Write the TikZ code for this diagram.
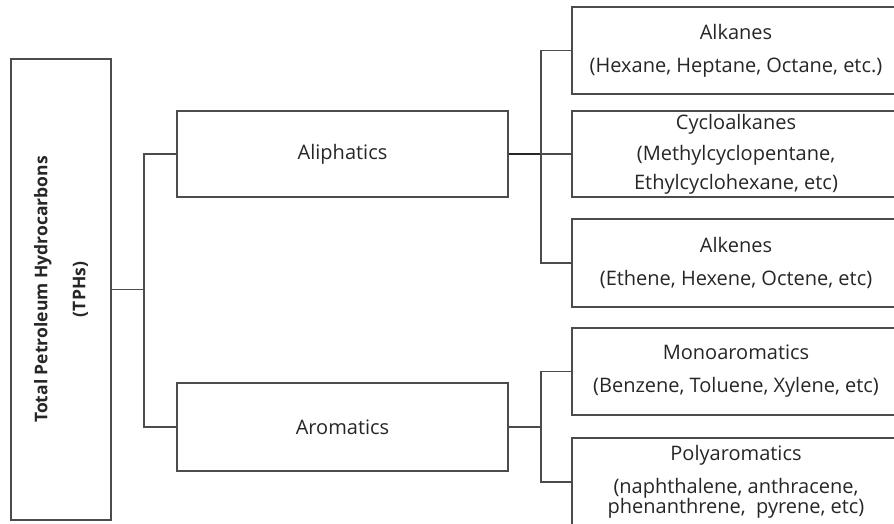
\documentclass[tikz,border=0pt]{standalone}
\usepackage{fontspec}
\setmainfont{Open Sans}
\usepackage{tikz}

\tikzset{
  box/.style={draw=black!70, line width=1.3pt, text=black!85, align=center, inner sep=0pt,
    font=\fontsize{20}{33}\selectfont},
  tphbox/.style={box, font=\bfseries\fontsize{17.5}{38}\selectfont},
  link/.style={draw=black!70, line width=1.3pt},
  elbow/.style={to path={|- (\tikztotarget)}}
}

\begin{document}
\begin{tikzpicture}[x=1pt, y=-1pt]
  \useasboundingbox (0,0) rectangle (894,523);
  \clip (0,0) rectangle (894,523);
  \node[tphbox, rotate=90, minimum width=461, minimum height=100] (tph) at (61,289.5)
    {Total Petroleum Hydrocarbons\\(TPHs)};
  \node[box, minimum width=331, minimum height=86] (ali) at (342.5,154) {Aliphatics};
  \node[box, minimum width=331, minimum height=88] (aro) at (342.5,427) {Aromatics};
  \node[box, minimum width=328, minimum height=87] (alk) at (736,50.5)
    {Alkanes\\(Hexane, Heptane, Octane, etc.)};
  \node[box, minimum width=328, minimum height=86] (cyc) at (736,154)
    {Cycloalkanes\\[-2pt](Methylcyclopentane,\\[-4pt]Ethylcyclohexane, etc)};
  \node[box, minimum width=328, minimum height=88] (ale) at (736,263)
    {Alkenes\\(Ethene, Hexene, Octene, etc)};
  \node[box, minimum width=328, minimum height=87] (mono) at (736,371.5)
    {Monoaromatics\\(Benzene, Toluene, Xylene, etc)};
  \node[box, minimum width=328, minimum height=88] (poly) at (736,482)
    {Polyaromatics\\(naphthalene, anthracene,\\[-13pt]phenanthrene, \ pyrene, etc)};
  \coordinate (j1) at (144,289.5);
  \coordinate (j2) at (541,154);
  \coordinate (j3) at (541,427);
  \path[link]
  (tph.south) edge (j1)
  (j1) edge[elbow] (ali.west)
  edge[elbow] (aro.west)
  (ali.east) edge[line width=2.2pt, draw=black!85] (j2)
  (j2) edge[elbow] (alk.west)
  edge[elbow] (cyc.west)
  edge[elbow] (ale.west)
  (aro.east) edge (j3)
  (j3) edge[elbow] (mono.west)
  edge[elbow] (poly.west)
;
\end{tikzpicture}
\end{document}
